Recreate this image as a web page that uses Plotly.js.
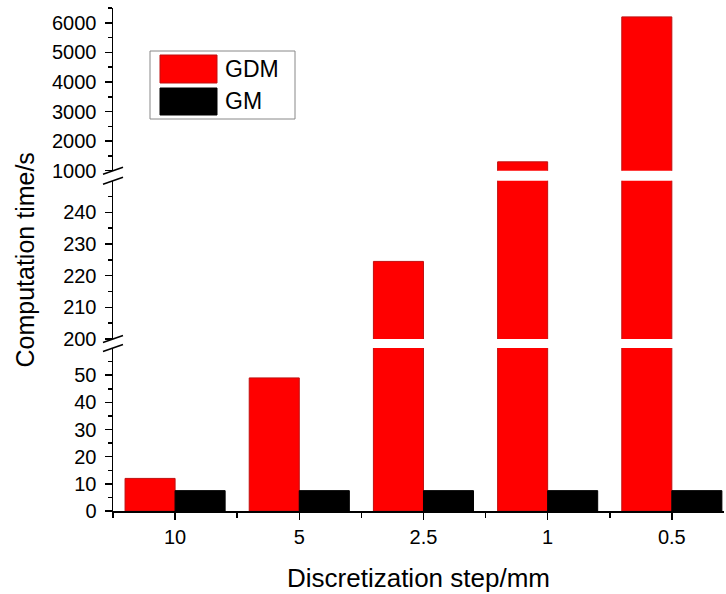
<!DOCTYPE html>
<html>
<head>
<meta charset="utf-8">
<script src="https://cdn.plot.ly/plotly-3.0.1.min.js"></script>
<style>html,body{margin:0;padding:0;background:#fff;}#chart{width:726px;height:594px;}</style>
</head>
<body>
<div id="chart"></div>
<script>
// ---- data ----
const categories = ["10", "5", "2.5", "1", "0.5"];
const seriesNames = ["GDM", "GM"];
const gdmValues = [12, 49, 224.5, 1300, 6200];
const gmValues = [7.5, 7.5, 7.5, 7.5, 7.5];
const yTicksLow = [0, 10, 20, 30, 40, 50];
const yMinorLow = [5, 15, 25, 35, 45, 55];
const yTicksMid = [200, 210, 220, 230, 240];
const yMinorMid = [205, 215, 225, 235, 245];
const yTicksHigh = [1000, 2000, 3000, 4000, 5000, 6000];
const yMinorHigh = [1500, 2500, 3500, 4500, 5500, 6500];
const xBoundaryTicks = [-0.5, 0.5, 1.5, 2.5, 3.5];

// ---- style ----
const FONT = "Arial, 'Liberation Sans', sans-serif";
const RED = "#ff0000", RED_EDGE = "#c01010", BLACK = "#000000";
const BW = 0.403;
const dom1 = [0, 0.324], dom2 = [0.342, 0.6567], dom3 = [0.6765, 1];
const XR = [-0.5, 4.42];

function gdmTrace(yax) {
  return {type: "bar", x: categories, y: gdmValues, name: seriesNames[0], yaxis: yax,
    offset: -BW, width: BW, marker: {color: RED, line: {color: RED_EDGE, width: 1}},
    showlegend: false, hoverinfo: "x+y"};
}
const traces = [
  gdmTrace("y"), gdmTrace("y2"), gdmTrace("y3"),
  {type: "bar", x: categories, y: gmValues, name: seriesNames[1], yaxis: "y",
    offset: 0, width: BW, marker: {color: BLACK, line: {color: BLACK, width: 1}},
    showlegend: false, hoverinfo: "x+y"},
  {type: "scatter", x: [], y: [], xaxis: "x2", yaxis: "y", showlegend: false, hoverinfo: "skip"}
];

function yAxis(dom, range, tv, mv, extra) {
  return Object.assign({
    domain: dom, range: range, anchor: "x", tickmode: "array", tickvals: tv,
    ticks: "outside", ticklen: 7, tickwidth: 1.5, tickcolor: "#000",
    minor: {tickmode: "array", tickvals: mv, ticks: "outside", ticklen: 4, tickwidth: 1.5, tickcolor: "#000", showgrid: false},
    showline: true, linecolor: "#000", linewidth: 1.5, showgrid: false, zeroline: false,
    tickfont: {family: FONT, size: 20, color: "#000"}, ticklabelstandoff: 4, fixedrange: true
  }, extra || {});
}

// break marks & custom legend (decorations in paper coords)
const PW = 611, PH = 503;
const dx = 10 / PW, dy = 3.5 / PH;
const shapes = [];
[dom1[1], dom2[0], dom2[1], dom3[0]].forEach(function (yy) {
  shapes.push({type: "line", xref: "paper", yref: "paper", x0: -dx, x1: dx, y0: yy - dy, y1: yy + dy,
    line: {color: "#000", width: 1.5}});
});
function px(x) { return (x - 113) / PW; }
function py(y) { return (511 - y) / PH; }
shapes.push({type: "rect", xref: "paper", yref: "paper", x0: px(150), x1: px(295), y0: py(119), y1: py(51),
  line: {color: "#888", width: 1}, fillcolor: "rgba(255,255,255,1)", layer: "above"});
shapes.push({type: "rect", xref: "paper", yref: "paper", x0: px(160), x1: px(217), y0: py(83), y1: py(55),
  line: {color: RED_EDGE, width: 1}, fillcolor: RED, layer: "above"});
shapes.push({type: "rect", xref: "paper", yref: "paper", x0: px(160), x1: px(217), y0: py(115), y1: py(88),
  line: {color: BLACK, width: 1}, fillcolor: BLACK, layer: "above"});
const annotations = [
  {xref: "paper", yref: "paper", x: px(223), y: py(69), xanchor: "left", yanchor: "middle", showarrow: false,
    text: seriesNames[0], font: {family: FONT, size: 23, color: "#000"}},
  {xref: "paper", yref: "paper", x: px(223), y: py(101), xanchor: "left", yanchor: "middle", showarrow: false,
    text: seriesNames[1], font: {family: FONT, size: 23, color: "#000"}}
];

const layout = {
  width: 726, height: 594,
  margin: {l: 113, r: 2, t: 8, b: 83},
  paper_bgcolor: "#fff", plot_bgcolor: "#fff",
  barmode: "overlay", showlegend: false,
  xaxis: {type: "category", range: XR, anchor: "y", ticks: "outside", ticklen: 7, tickwidth: 1.5, tickcolor: "#000",
    showline: true, linecolor: "#000", linewidth: 1.5, showgrid: false, zeroline: false, fixedrange: true,
    tickfont: {family: FONT, size: 20, color: "#000"}, ticklabelstandoff: 0,
    title: {text: "Discretization step/mm", font: {family: FONT, size: 26, color: "#000"}, standoff: 22}},
  xaxis2: {overlaying: "x", anchor: "y", side: "bottom", range: XR, tickmode: "array", tickvals: xBoundaryTicks,
    ticks: "outside", ticklen: 6, tickwidth: 1.5, tickcolor: "#000", showticklabels: false,
    showline: false, showgrid: false, zeroline: false, fixedrange: true},
  yaxis: yAxis(dom1, [0, 60], yTicksLow, yMinorLow),
  yaxis2: yAxis(dom2, [200, 250], yTicksMid, yMinorMid,
    {title: {text: "Computation time/s", font: {family: FONT, size: 25, color: "#000"}, standoff: 21}}),
  yaxis3: yAxis(dom3, [1000, 6500], yTicksHigh, yMinorHigh),
  shapes: shapes,
  annotations: annotations
};

Plotly.newPlot("chart", traces, layout, {displayModeBar: false, staticPlot: true});
</script>
</body>
</html>
